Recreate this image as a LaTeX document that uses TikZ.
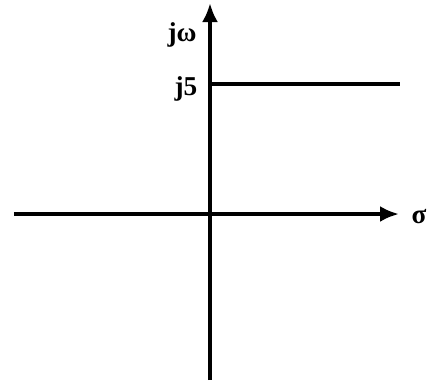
\documentclass[tikz,border=0pt]{standalone}
\usepackage{fontspec}
\setmainfont{Liberation Serif}
\usetikzlibrary{arrows.meta}

\begin{document}
\begin{tikzpicture}[x=0.02cm,y=-0.02cm,
    axis/.style={line width=2.1pt,-{Latex[length=3.8mm,width=3.2mm]}},
    lbl/.style={font=\fontsize{15.5}{18}\selectfont\bfseries,inner sep=0pt}]
  \useasboundingbox (0,0) rectangle (437,380);
  % axes
  \coordinate (sleft) at (14,214);
  \coordinate (sright) at (399,214);
  \coordinate (wbot) at (210,380);
  \coordinate (wtop) at (210,3);
  \draw[axis] (sleft) -- (sright);
  \draw[axis] (wbot) -- (wtop);
  % line at j5
  \coordinate (jfive) at (210,84);
  \coordinate (jfiveend) at (400,84);
  \draw[line width=2.1pt] (jfive) -- (jfiveend);
  % labels
  \node[lbl] (jw) at (182,35) {jω};
  \node[lbl] (jl) at (186,89) {j5};
  \node[lbl] (sig) at (419,217) {σ};
\end{tikzpicture}
\end{document}
